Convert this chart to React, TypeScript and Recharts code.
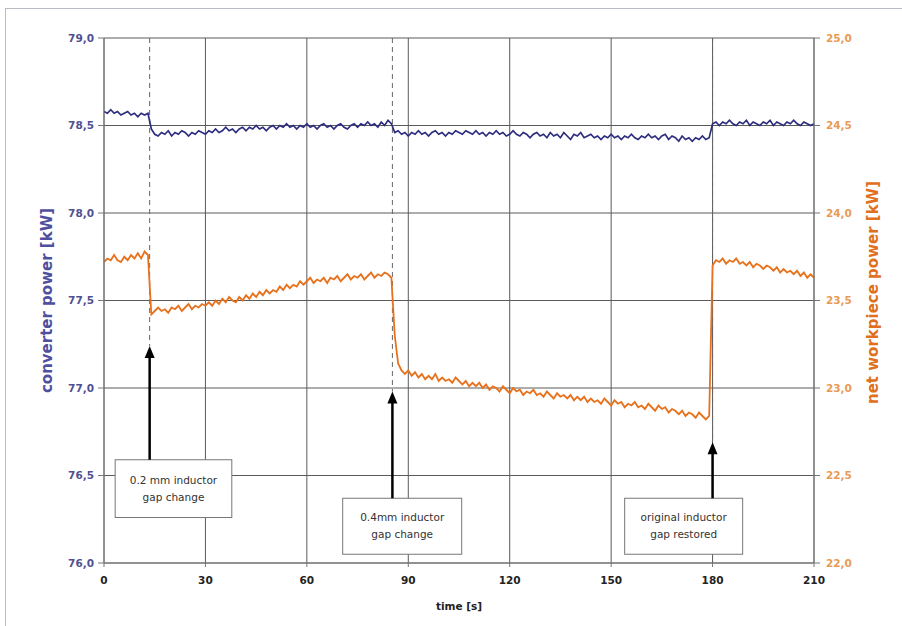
import {
  LineChart, Line, XAxis, YAxis, CartesianGrid, ReferenceLine, ReferenceArea
} from 'recharts';

const times = Array.from({ length: 211 }, (_, i) => i);

// converter power [kW], one reading per second
const converterPower = [
  78.58, 78.57, 78.59, 78.57, 78.58, 78.56, 78.57, 78.58, 78.56, 78.57, 78.55, 78.57, 78.56, 78.57,
  78.48, 78.45, 78.44, 78.46, 78.45, 78.47, 78.44, 78.46, 78.45, 78.47, 78.46, 78.44, 78.46, 78.45, 78.47, 78.46,
  78.45, 78.47, 78.46, 78.48, 78.46, 78.47, 78.49, 78.47, 78.48, 78.46, 78.48, 78.49, 78.47, 78.49, 78.48, 78.50, 78.48, 78.49, 78.47, 78.49,
  78.50, 78.48, 78.50, 78.49, 78.51, 78.49, 78.50, 78.48, 78.50, 78.49, 78.51, 78.49, 78.50, 78.48, 78.50, 78.51, 78.49, 78.50, 78.48, 78.50,
  78.51, 78.49, 78.48, 78.50, 78.51, 78.49, 78.51, 78.50, 78.52, 78.50, 78.51, 78.49, 78.52, 78.50, 78.53, 78.51,
  78.46, 78.47, 78.45, 78.46, 78.44, 78.46, 78.45, 78.47, 78.45, 78.46, 78.44, 78.46, 78.47, 78.45, 78.46, 78.44, 78.46, 78.45, 78.47, 78.46, 78.45, 78.47, 78.46, 78.45,
  78.47, 78.45, 78.46, 78.44, 78.46, 78.45, 78.47, 78.45, 78.46, 78.44, 78.45, 78.47, 78.45, 78.44, 78.46, 78.45, 78.43, 78.45, 78.46, 78.44, 78.45, 78.43, 78.46, 78.44, 78.45, 78.43, 78.46, 78.44, 78.42, 78.45,
  78.44, 78.46, 78.43, 78.44, 78.45, 78.43, 78.44, 78.42, 78.44, 78.43, 78.45, 78.43, 78.44, 78.42, 78.44, 78.43, 78.45, 78.43, 78.42, 78.44, 78.43, 78.45, 78.43, 78.44, 78.42, 78.44, 78.45, 78.42, 78.44, 78.43,
  78.41, 78.44, 78.42, 78.43, 78.41, 78.43, 78.42, 78.44, 78.42, 78.43,
  78.51, 78.52, 78.50, 78.52, 78.51, 78.53, 78.51, 78.50, 78.52, 78.51, 78.53, 78.50, 78.52, 78.51, 78.50, 78.52, 78.51, 78.53, 78.50, 78.52, 78.51, 78.50, 78.52, 78.51, 78.53, 78.51, 78.50, 78.52, 78.51, 78.50, 78.51,
];

// net workpiece power [kW]
const workpiecePower = [
  23.72, 23.74, 23.73, 23.76, 23.73, 23.72, 23.75, 23.73, 23.76, 23.74, 23.77, 23.74, 23.78, 23.76,
  23.42, 23.44, 23.46, 23.44, 23.45, 23.43, 23.46, 23.45, 23.47, 23.44, 23.46, 23.48, 23.45, 23.47, 23.46, 23.48,
  23.47, 23.49, 23.47, 23.50, 23.48, 23.51, 23.49, 23.52, 23.50, 23.49, 23.52, 23.50, 23.53, 23.51, 23.54, 23.52, 23.55, 23.53, 23.56, 23.54,
  23.56, 23.55, 23.58, 23.56, 23.59, 23.57, 23.59, 23.58, 23.61, 23.59, 23.61, 23.63, 23.60, 23.62, 23.61, 23.63, 23.60, 23.63, 23.62, 23.64,
  23.61, 23.63, 23.65, 23.62, 23.64, 23.63, 23.65, 23.62, 23.64, 23.66, 23.63, 23.65, 23.64, 23.66, 23.65, 23.63,
  23.30, 23.14, 23.10, 23.08, 23.10, 23.07, 23.09, 23.06, 23.08, 23.05, 23.07, 23.05, 23.08, 23.04, 23.06, 23.04, 23.05, 23.03, 23.06, 23.04, 23.02, 23.04, 23.01, 23.03,
  23.01, 23.03, 23.00, 23.02, 22.99, 23.01, 23.00, 22.98, 23.01, 22.99, 22.97, 23.00, 22.98, 22.99, 22.96, 22.98, 22.97, 22.99, 22.96, 22.97, 22.95, 22.98, 22.96, 22.94, 22.97, 22.95, 22.96, 22.94, 22.96, 22.93,
  22.95, 22.93, 22.95, 22.92, 22.94, 22.92, 22.93, 22.91, 22.94, 22.92, 22.90, 22.93, 22.91, 22.92, 22.89, 22.91, 22.90, 22.92, 22.89, 22.90, 22.88, 22.91, 22.89, 22.87, 22.90, 22.88, 22.89, 22.86, 22.88, 22.87,
  22.85, 22.87, 22.84, 22.86, 22.85, 22.83, 22.86, 22.84, 22.82, 22.84,
  23.70, 23.73, 23.72, 23.74, 23.71, 23.73, 23.72, 23.74, 23.71, 23.72, 23.70, 23.72, 23.69, 23.71, 23.70, 23.68, 23.70, 23.69, 23.67, 23.69, 23.66, 23.68, 23.66, 23.67, 23.65, 23.67, 23.64, 23.66, 23.63, 23.65, 23.63,
];

const timeTicks = [0, 30, 60, 90, 120, 150, 180, 210];
const leftTicks = [76, 76.5, 77, 77.5, 78, 78.5, 79];
const rightTicks = [22, 22.5, 23, 23.5, 24, 24.5, 25];

// gap change events: time, arrow tip and note box (box in seconds / left-axis kW)
const events = [
  { t: 13.5, tip: 77.24, box: [3.3, 37.8, 76.26, 76.59], lines: ['0.2 mm inductor', 'gap change'] },
  { t: 85.3, tip: 76.98, box: [70.6, 105.8, 76.05, 76.37], lines: ['0.4mm inductor', 'gap change'] },
  { t: 180, tip: 76.69, box: [154, 188.9, 76.05, 76.37], lines: ['original inductor', 'gap restored'] },
];

const data = times.map((t, i) => ({ t, conv: converterPower[i], net: workpiecePower[i] }));

const FONT = '"DejaVu Sans", Verdana, sans-serif';
const comma = (v: number) => v.toFixed(1).replace('.', ',');

const arrowShape = (p: any) => {
  const { x1, y1, x2, y2 } = p;
  return (
    <g>
      <line x1={x1} y1={y1} x2={x2} y2={y2 + 8} stroke="#000" strokeWidth={2.5} />
      <polygon points={`${x2},${y2} ${x2 - 5},${y2 + 12} ${x2 + 5},${y2 + 12}`} fill="#000" />
    </g>
  );
};

const boxShape = (lines: string[]) => (p: any) => {
  const { x, y, width, height } = p;
  return (
    <g>
      <rect x={x} y={y} width={width} height={height} fill="#fff" stroke="#777" strokeWidth={1} />
      <text x={x + width / 2} y={y + height * 0.36} textAnchor="middle" dominantBaseline="middle"
        fontFamily={FONT} fontSize={10.5} fill="#333">{lines[0]}</text>
      <text x={x + width / 2} y={y + height * 0.66} textAnchor="middle" dominantBaseline="middle"
        fontFamily={FONT} fontSize={10.5} fill="#333">{lines[1]}</text>
    </g>
  );
};

const App = () => (
  <div style={{ position: 'absolute', left: 0, top: 0, width: 902, height: 626, background: '#fff', overflow: 'hidden' }}>
    <div style={{ position: 'absolute', left: 5, top: 8, width: 920, height: 640, borderTop: '1px solid #b8bcc4', borderLeft: '1px solid #b8bcc4' }} />
    <LineChart width={902} height={626} data={data} margin={{ top: 38, right: 28, bottom: 33, left: 44 }}
      style={{ position: 'absolute', left: 0, top: 0 }}>
      <CartesianGrid yAxisId="left" stroke="#5a5a5a" strokeWidth={1} />
      <XAxis dataKey="t" type="number" domain={[0, 210]} ticks={timeTicks} height={30}
        stroke="#777" tickSize={4} tickMargin={10}
        tick={{ fontSize: 10.5, fontWeight: 'bold', fill: '#222', fontFamily: FONT }}
        label={{
          content: ({ viewBox }: any) => (
            <text x={viewBox.x + viewBox.width / 2} y={viewBox.y + 44} textAnchor="middle"
              dominantBaseline="middle" fontFamily={FONT} fontSize={10.5} fontWeight="bold" fill="#222">time [s]</text>
          ),
        }} />
      <YAxis yAxisId="left" domain={[76, 79]} ticks={leftTicks} tickFormatter={comma} width={60}
        stroke="#777" tickSize={6} tickMargin={4} allowDataOverflow
        tick={{ fontSize: 10.5, fontWeight: 'bold', fill: '#4f4f92', fontFamily: FONT }}
        label={{
          content: ({ viewBox }: any) => {
            const cx = viewBox.x + 3;
            const cy = viewBox.y + viewBox.height / 2;
            return (
              <text x={cx} y={cy} transform={`rotate(-90 ${cx} ${cy})`} textAnchor="middle"
                dominantBaseline="middle" fontFamily={FONT} fontSize={15} fontWeight="bold" fill="#4f4fa0">converter power [kW]</text>
            );
          },
        }} />
      <YAxis yAxisId="right" orientation="right" domain={[22, 25]} ticks={rightTicks} tickFormatter={comma} width={60}
        stroke="#777" tickSize={6} tickMargin={6} allowDataOverflow
        tick={{ fontSize: 10.5, fontWeight: 'bold', fill: '#e89a55', fontFamily: FONT }}
        label={{
          content: ({ viewBox }: any) => {
            const cx = viewBox.x + 59;
            const cy = viewBox.y + viewBox.height / 2 - 8;
            return (
              <text x={cx} y={cy} transform={`rotate(-90 ${cx} ${cy})`} textAnchor="middle"
                dominantBaseline="middle" fontFamily={FONT} fontSize={15} fontWeight="bold" fill="#e07020">net workpiece power [kW]</text>
            );
          },
        }} />
      {events.map((e) => (
        <ReferenceLine key={`d${e.t}`} yAxisId="left" segment={[{ x: e.t, y: 79 }, { x: e.t, y: e.tip }]}
          stroke="#666" strokeDasharray="5 4" strokeWidth={1} />
      ))}
      <Line yAxisId="left" type="linear" dataKey="conv" stroke="#2d2d80" strokeWidth={1.7} dot={false} isAnimationActive={false} />
      <Line yAxisId="right" type="linear" dataKey="net" stroke="#e8711c" strokeWidth={1.8} dot={false} isAnimationActive={false} />
      {events.map((e) => (
        <ReferenceLine key={`a${e.t}`} yAxisId="left" segment={[{ x: e.t, y: e.box[3] }, { x: e.t, y: e.tip }]}
          shape={arrowShape} />
      ))}
      {events.map((e) => (
        <ReferenceArea key={`b${e.t}`} yAxisId="left" x1={e.box[0]} x2={e.box[1]} y1={e.box[2]} y2={e.box[3]}
          shape={boxShape(e.lines)} />
      ))}
    </LineChart>
  </div>
);

export default App;
